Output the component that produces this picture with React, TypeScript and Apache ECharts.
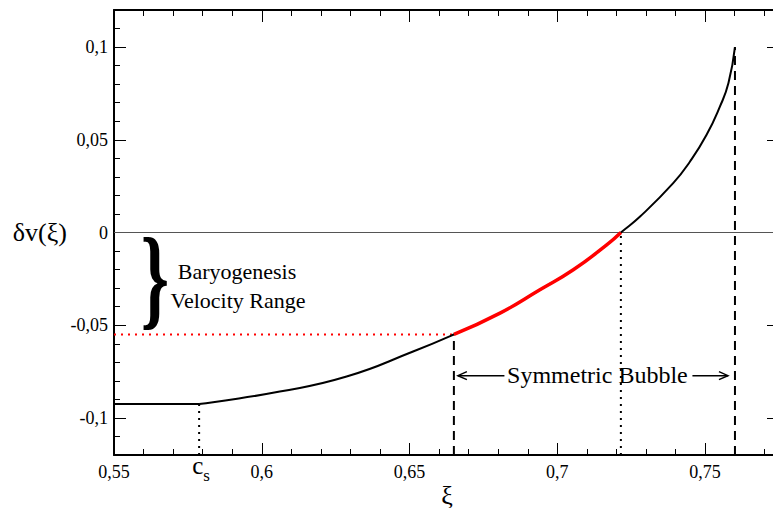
import React, { useEffect, useRef } from "react";
import * as echarts from "echarts";

// ---- axis ranges & ticks ----
const xMin = 0.55;
const xMax = 0.775;
const yMin = -0.12;
const yMax = 0.12;
const xMajorTicks = [0.55, 0.6, 0.65, 0.7, 0.75];
const yMajorTicks = [-0.1, -0.05, 0, 0.05, 0.1];

// ---- data ----
const cs = 0.5788; // sound speed marker
const flatValue = -0.0925;
const curveX = [0.5788, 0.5835, 0.6061, 0.6287, 0.6512, 0.665, 0.6806, 0.6941, 0.7054, 0.7167, 0.7215, 0.728, 0.7392, 0.7449, 0.7505, 0.755, 0.7579, 0.7601];
const curveY = [-0.0925, -0.0915, -0.0858, -0.0777, -0.0642, -0.055, -0.0435, -0.0309, -0.0201, -0.0067, 0, 0.0086, 0.0266, 0.0383, 0.0527, 0.0679, 0.0806, 0.1];
const redStartX = 0.665;
const redEndX = 0.7215;
const redStartY = -0.055;
const bubbleLeftX = 0.665;
const bubbleRightX = 0.7601;
const bubbleTopY = 0.1;
const crossingX = 0.7215;
const arrowY = -0.0772;

const FONT = "Liberation Serif, Times New Roman, serif";
const fmt = (v: number) => String(Math.round(v * 1000) / 1000).replace(".", ",");

export default function App() {
  const ref = useRef<HTMLDivElement>(null);
  useEffect(() => {
    if (!ref.current) return;
    const chart = echarts.init(ref.current, null, { renderer: "svg" });

    const minorX = (pos: string) => ({
      type: "value", position: pos, min: xMin, max: xMax, interval: 0.01,
      axisLine: { show: true, onZero: false, lineStyle: { color: "#000", width: 2 } },
      axisTick: { show: true, inside: true, length: 6, lineStyle: { color: "#000", width: 1 } },
      axisLabel: { show: false }, splitLine: { show: false },
    });
    const majorX = (pos: string, labels: boolean) => ({
      type: "value", position: pos, min: xMin, max: xMax,
      axisLine: { show: false, onZero: false },
      axisTick: { show: true, inside: true, length: 12, customValues: xMajorTicks, lineStyle: { color: "#000", width: 1 } },
      axisLabel: { show: labels, customValues: xMajorTicks, formatter: fmt, color: "#000", fontFamily: FONT, fontSize: 18, margin: 8 },
      splitLine: { show: false },
    });
    const minorY = (pos: string) => ({
      type: "value", position: pos, min: yMin, max: yMax, interval: 0.01,
      axisLine: { show: true, onZero: false, lineStyle: { color: "#000", width: 2 } },
      axisTick: { show: true, inside: true, length: 6, lineStyle: { color: "#000", width: 1 } },
      axisLabel: { show: false }, splitLine: { show: false },
    });
    const majorY = (pos: string, labels: boolean) => ({
      type: "value", position: pos, min: yMin, max: yMax,
      axisLine: { show: false, onZero: false },
      axisTick: { show: true, inside: true, length: 12, customValues: yMajorTicks, lineStyle: { color: "#000", width: 1 } },
      axisLabel: { show: labels, customValues: yMajorTicks, formatter: fmt, color: "#000", fontFamily: FONT, fontSize: 18, margin: 6 },
      splitLine: { show: false },
    });

    const curve = curveX.map((x, i) => [x, curveY[i]]);
    const red = curve.filter(([x]) => x >= redStartX - 1e-9 && x <= redEndX + 1e-9);

    const lineSeries = (data: number[][], color: string, width: number, type: any, z: number, smooth: any = false) => ({
      type: "line", data, xAxisIndex: 0, yAxisIndex: 0, symbol: "none", smooth, z,
      lineStyle: { color, width, type }, silent: true,
    });

    chart.setOption({
      animation: false,
      backgroundColor: "#fff",
      grid: { left: 114, right: 0, top: 10, bottom: 53 },
      xAxis: [minorX("bottom"), majorX("bottom", true), minorX("top"), majorX("top", false)],
      yAxis: [minorY("left"), majorY("left", true), minorY("right"), majorY("right", false)],
      series: [
        lineSeries([[xMin, 0], [xMax, 0]], "#555", 1, "solid", 1),
        lineSeries([[xMin, flatValue], [cs, flatValue]], "#000", 2, "solid", 3),
        lineSeries(curve, "#000", 2, "solid", 3, 0.5),
        lineSeries(red, "#ff0000", 3.5, "solid", 4, 0.5),
        lineSeries([[xMin, redStartY], [redStartX, redStartY]], "#ff0000", 2, [2, 5], 2),
        lineSeries([[cs, yMin], [cs, flatValue]], "#000", 2, [2, 5], 2),
        lineSeries([[crossingX, yMin], [crossingX, 0]], "#000", 2, [2, 5], 2),
        lineSeries([[bubbleLeftX, yMin], [bubbleLeftX, redStartY]], "#000", 2, [9, 6], 2),
        lineSeries([[bubbleRightX, yMin], [bubbleRightX, bubbleTopY]], "#000", 2, [9, 6], 2),
      ],
    });

    const px = (x: number, y: number) => chart.convertToPixel({ xAxisIndex: 0, yAxisIndex: 0 }, [x, y]) as number[];
    const L = px(bubbleLeftX, arrowY);
    const R = px(bubbleRightX, arrowY);
    const C = px(cs, yMin);
    const ay = L[1];
    const textCx = (L[0] + R[0]) / 2 + 3;
    const halfText = 91;
    const stroke = { stroke: "#000", lineWidth: 1.5, fill: "none" };
    const arrow = (x1: number, x2: number) => [
      { type: "line", shape: { x1, y1: ay, x2, y2: ay }, style: stroke, silent: true },
      { type: "polyline", shape: { points: [[x2 + (x2 > x1 ? -9 : 9), ay - 4], [x2, ay], [x2 + (x2 > x1 ? -9 : 9), ay + 4]] }, style: stroke, silent: true },
    ];

    chart.setOption({
      graphic: [
        { type: "text", x: 155, y: 277, scaleY: 1.55, style: { text: "}", fontFamily: FONT, fontSize: 72, fontWeight: "bold", fill: "#000", align: "center", verticalAlign: "middle" }, silent: true },
        { type: "text", x: 237, y: 271, style: { text: "Baryogenesis", fontFamily: FONT, fontSize: 22, fill: "#000", align: "center", verticalAlign: "middle" }, silent: true },
        { type: "text", x: 238, y: 300, style: { text: "Velocity Range", fontFamily: FONT, fontSize: 22, fill: "#000", align: "center", verticalAlign: "middle" }, silent: true },
        { type: "text", x: textCx, y: ay - 1, style: { text: "Symmetric Bubble", fontFamily: FONT, fontSize: 24, fill: "#000", align: "center", verticalAlign: "middle" }, silent: true },
        ...arrow(textCx - halfText - 2, L[0] + 4),
        ...arrow(textCx + halfText + 4, R[0] - 7),
        { type: "text", x: 447, y: 495, style: { text: "ξ", fontFamily: FONT, fontSize: 26, fill: "#000", align: "center", verticalAlign: "middle" }, silent: true },
        { type: "text", x: 67, y: 232, style: { text: "δv(ξ)", fontFamily: FONT, fontSize: 26, fill: "#000", align: "right", verticalAlign: "middle" }, silent: true },
        {
          type: "text", x: C[0] + 2, y: 453, silent: true,
          style: {
            text: "{c|c}{s|s}", align: "center", verticalAlign: "top", fill: "#000",
            rich: {
              c: { fontFamily: FONT, fontSize: 25, lineHeight: 25, verticalAlign: "top", fill: "#000" },
              s: { fontFamily: FONT, fontSize: 17, lineHeight: 17, padding: [14, 0, 0, 0], verticalAlign: "top", fill: "#000" },
            },
          },
        },
      ],
    });

    return () => chart.dispose();
  }, []);
  return (
    <div style={{ position: "absolute", left: 0, top: 0, width: 773, height: 508, overflow: "hidden" }}>
      <div ref={ref} style={{ width: 779, height: 508 }} />
    </div>
  );
}
